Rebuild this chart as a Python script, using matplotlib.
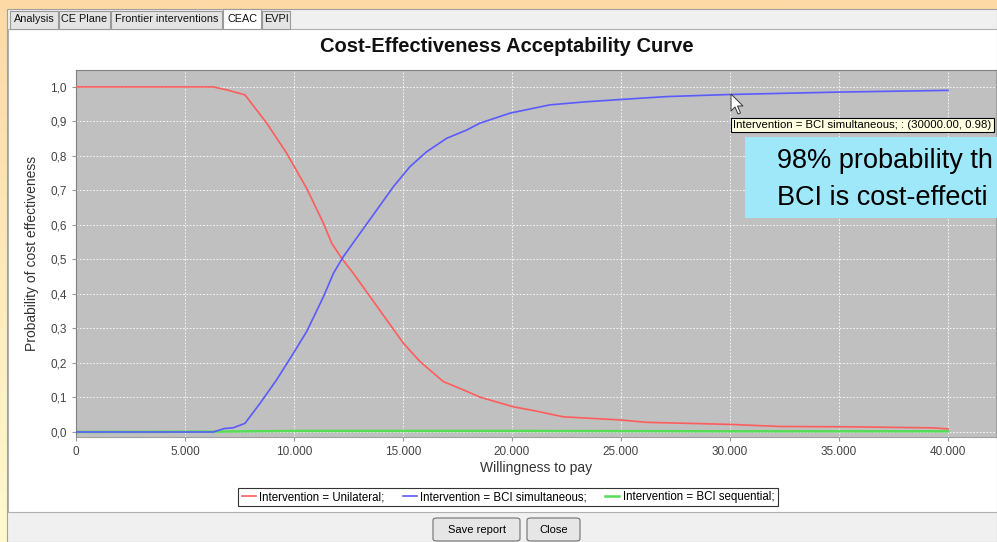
import numpy as np
import matplotlib.pyplot as plt
from matplotlib.patches import Rectangle, FancyBboxPatch, Polygon

# data
wtp_unilateral = [0, 6300, 7000, 7750, 8750, 9660, 10580, 11350, 11730, 12190, 12720,
                  13490, 14250, 15020, 15780, 16850, 17770, 18530, 20060, 21000, 22350,
                  24950, 26180, 30000, 32290, 35500, 39300, 40000]
p_unilateral = [1.0, 1.0, 0.99, 0.977, 0.895, 0.808, 0.706, 0.605, 0.547, 0.503, 0.460,
                0.392, 0.325, 0.257, 0.204, 0.146, 0.122, 0.101, 0.073, 0.062, 0.044,
                0.035, 0.028, 0.022, 0.016, 0.015, 0.012, 0.009]

wtp_simult = [0, 6300, 6800, 7200, 7750, 8440, 9200, 9970, 10580, 11350, 11810, 12260,
              13030, 13790, 14560, 15320, 16080, 17000, 17920, 18530, 19910, 21740,
              23420, 25110, 27100, 30000, 35000, 40000]
p_simult = [0, 0, 0.010, 0.012, 0.025, 0.083, 0.151, 0.228, 0.291, 0.392, 0.460, 0.508,
            0.576, 0.643, 0.711, 0.769, 0.812, 0.851, 0.875, 0.895, 0.924, 0.948,
            0.957, 0.964, 0.972, 0.978, 0.985, 0.990]

wtp_seq = [0, 6300, 10000, 20000, 30000, 40000]
p_seq = [0, 0.001, 0.003, 0.003, 0.002, 0.002]

xticks = [0, 5000, 10000, 15000, 20000, 25000, 30000, 35000, 40000]
xticklabels = ["0", "5.000", "10.000", "15.000", "20.000", "25.000", "30.000", "35.000", "40.000"]
yticks = [0, 0.1, 0.2, 0.3, 0.4, 0.5, 0.6, 0.7, 0.8, 0.9, 1.0]
yticklabels = ["0,0", "0,1", "0,2", "0,3", "0,4", "0,5", "0,6", "0,7", "0,8", "0,9", "1,0"]

tabs = ["Analysis", "CE Plane", "Frontier interventions", "CEAC", "EVPI"]
labels = ["Intervention = Unilateral;", "Intervention = BCI simultaneous;",
          "Intervention = BCI sequential;"]
# the slide's callout runs off the right edge of the screenshot
callout = ["98% probability th", "BCI is cost-effecti"]

W, H = 997, 542
def fx(px):
    return px / W
def fy(py):
    return 1 - py / H

plt.rcParams['font.family'] = ['Liberation Sans', 'DejaVu Sans']

fig = plt.figure(figsize=(9.97, 5.42), dpi=100)

# slide background (orange to pale yellow)
bg = fig.add_axes([0, 0, 1, 1], zorder=-10)
grad = np.linspace(0, 1, 256).reshape(-1, 1)
c_top = np.array([253, 217, 166]) / 255
c_bot = np.array([255, 250, 205]) / 255
img = c_top[None, None, :] * (1 - grad[:, :, None]) + c_bot[None, None, :] * grad[:, :, None]
bg.imshow(img, aspect='auto', extent=[0, 1, 0, 1])
bg.set_xlim(0, 1)
bg.set_ylim(0, 1)
bg.axis('off')

def rect(x0, y0, x1, y1, fc, ec='none', lw=0.8, z=-5):
    r = Rectangle((fx(x0), fy(y1)), fx(x1) - fx(x0), fy(y0) - fy(y1),
                  transform=fig.transFigure, facecolor=fc, edgecolor=ec, lw=lw, zorder=z)
    fig.add_artist(r)

# window
rect(7, 9, 997, 542, '#F0F0F0', '#A0A0A0')
rect(8, 29, 997, 512, 'white', '#B0B0B0')

# tabs
tab_x = [10, 59, 111, 223, 262, 291]
for i, t in enumerate(tabs):
    sel = t == "CEAC"
    rect(tab_x[i], 9 if sel else 11, tab_x[i + 1] - 1, 29,
         'white' if sel else '#E4E4E4', '#9A9A9A', z=-4)
    fig.text(fx((tab_x[i] + tab_x[i + 1] - 1) / 2), fy(19.5), t, fontsize=7.8,
             ha='center', va='center', color='#111111')

fig.text(fx(507), fy(47), "Cost-Effectiveness Acceptability Curve",
         fontsize=14.5, fontweight='bold', ha='center', va='center', color='#111111')

# plot
ax = fig.add_axes([fx(76), fy(437), fx(996) - fx(76), fy(70) - fy(437)])
ax.set_facecolor('#C0C0C0')
ax.plot(wtp_seq, p_seq, color='#55DD55', lw=1.8, label=labels[2], zorder=2)
ax.plot(wtp_unilateral, p_unilateral, color='#FF5C5C', lw=1.2, label=labels[0], zorder=3)
ax.plot(wtp_simult, p_simult, color='#5A5AFF', lw=1.2, label=labels[1], zorder=4)
ax.set_xlim(0, 42200)
ax.set_ylim(-0.0145, 1.049)
ax.set_xticks(xticks)
ax.set_xticklabels(xticklabels)
ax.set_yticks(yticks)
ax.set_yticklabels(yticklabels)
ax.tick_params(labelsize=8.5, colors='#444444', length=3, color='#999999')
ax.grid(True, color='white', ls=(0, (2, 2)), lw=0.6)
ax.set_axisbelow(True)
for s in ['left', 'top']:
    ax.spines[s].set_color('#808080')
for s in ['right', 'bottom']:
    ax.spines[s].set_color('#A0A0A0')
ax.set_xlabel("Willingness to pay", fontsize=10, color='#333333', labelpad=2)
ax.set_ylabel("Probability of cost effectiveness", fontsize=10, color='#333333', labelpad=8)

# legend below plot
h, l = ax.get_legend_handles_labels()
order = [1, 2, 0]
leg = fig.legend([h[i] for i in order], [l[i] for i in order], loc='center',
                 bbox_to_anchor=(fx(508), fy(497)), ncol=3, fontsize=8.3,
                 frameon=True, fancybox=False, edgecolor='black', handlelength=1.2,
                 handletextpad=0.3, columnspacing=1.6, borderpad=0.3)
leg.get_frame().set_linewidth(0.8)

# tooltip
fig.text(fx(733), fy(125), "Intervention = BCI simultaneous; : (30000.00, 0.98)",
         fontsize=8.2, ha='left', va='center', color='black',
         bbox=dict(boxstyle='square,pad=0.2', fc='#FFFFE1', ec='black', lw=0.8))

# mouse cursor
cursor = [(731, 94), (731, 111), (735, 107), (738, 114), (740.5, 113), (737.5, 106), (743, 106)]
fig.add_artist(Polygon([(fx(a), fy(b)) for a, b in cursor], closed=True,
                       transform=fig.transFigure, fc='white', ec='#333333', lw=0.7, zorder=7))

# callout
rect(745, 137, 997, 218, '#9EE8FA', z=5)
fig.text(fx(777), fy(161), callout[0], fontsize=19.5,
         ha='left', va='center', color='black', zorder=6)
fig.text(fx(777), fy(198), callout[1], fontsize=19.5,
         ha='left', va='center', color='black', zorder=6)

# buttons
for x0, x1, t in [(433, 520, "Save report"), (527, 580, "Close")]:
    b = FancyBboxPatch((fx(x0), fy(541)), fx(x1) - fx(x0), fy(518) - fy(541),
                       boxstyle='round,pad=0,rounding_size=0.004',
                       transform=fig.transFigure, fc='#E6E6E6', ec='#707070', lw=0.8)
    fig.add_artist(b)
    fig.text(fx((x0 + x1) / 2), fy(530), t, fontsize=8, ha='center', va='center')

plt.savefig('out.png', dpi=100)
